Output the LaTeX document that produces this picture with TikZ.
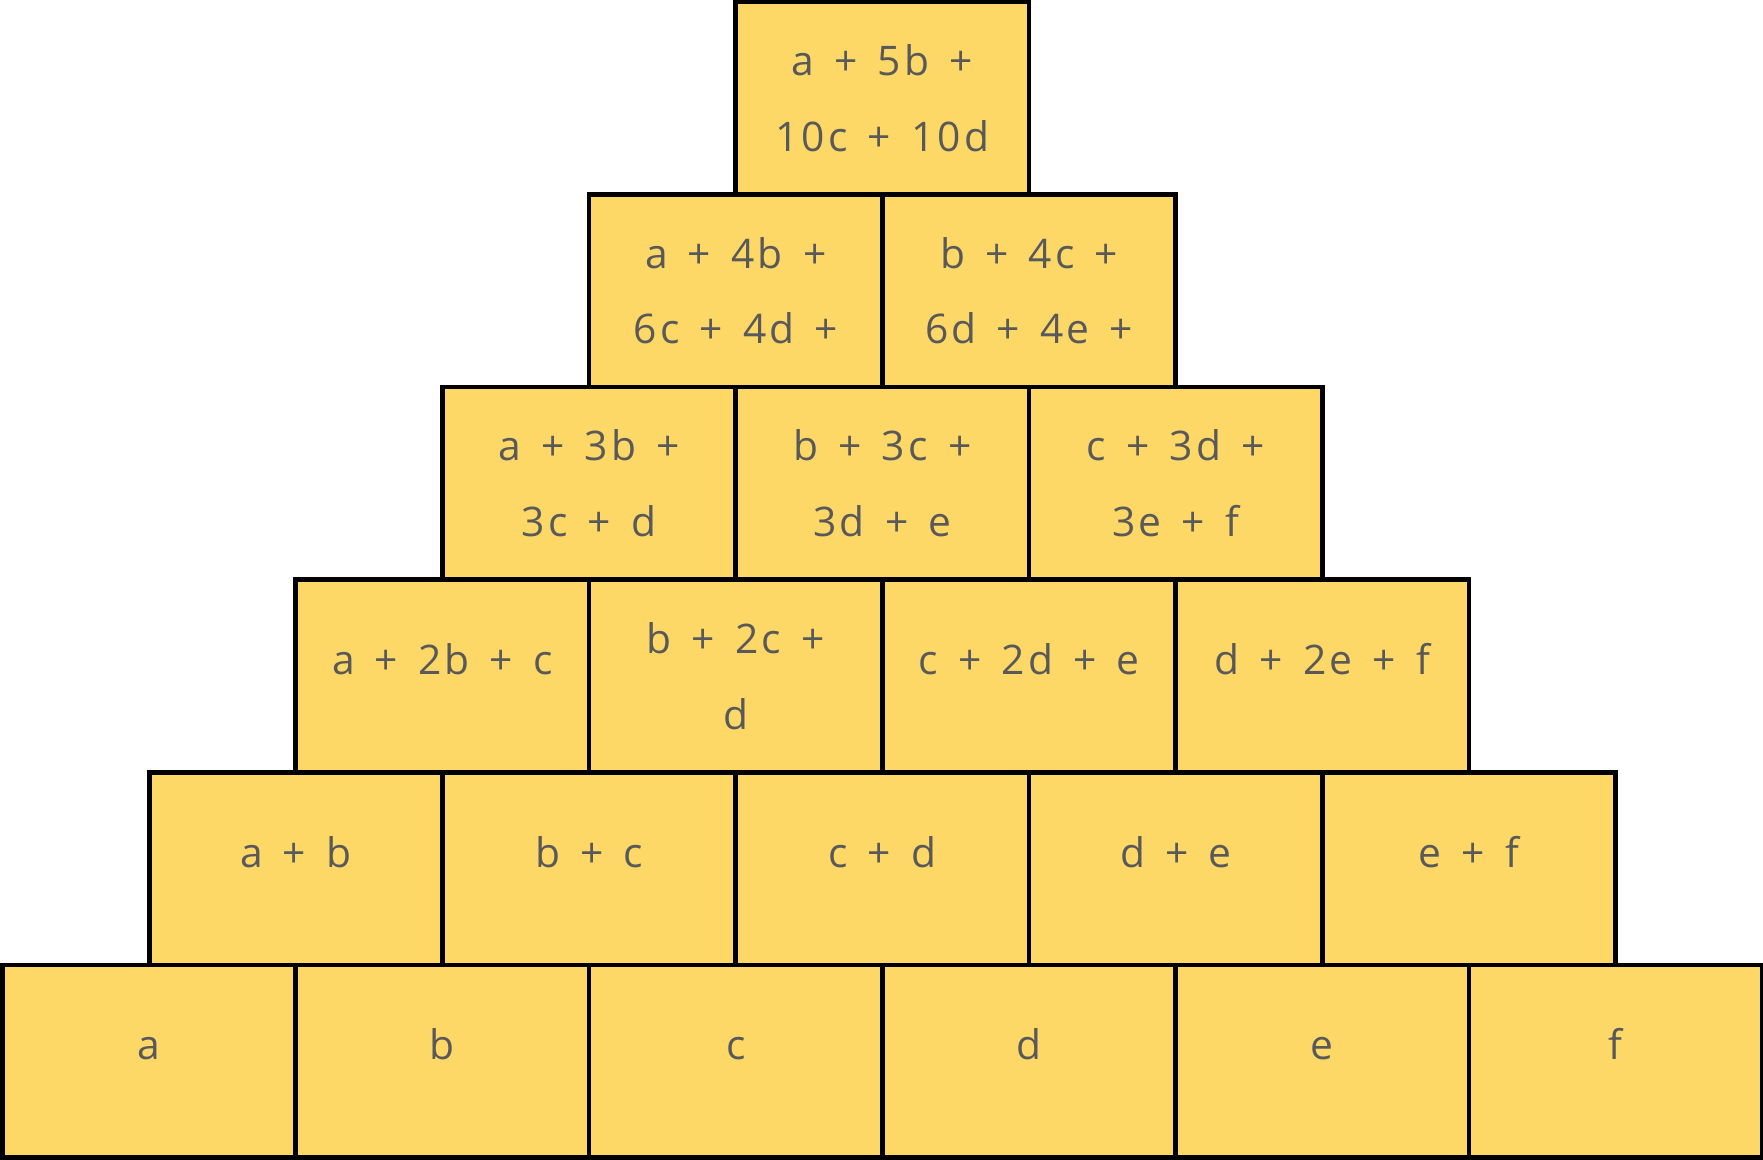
\documentclass[tikz,border=0pt]{standalone}
\usepackage{fontspec}
\setmainfont{Open Sans}[LetterSpace=8,WordSpace=1.45]
\definecolor{brickfill}{HTML}{FDD867}
\definecolor{ink}{HTML}{595959}
\tikzset{
  brick/.style={draw=black,line width=1.35pt,fill=brickfill,
    minimum width=2.933cm,minimum height=1.926cm,inner sep=0pt,outer sep=0pt,
    text=ink,align=center,font=\fontsize{11.6}{21.5}\selectfont},
  oneline/.style={text height=2mm,text depth=2.3mm}
}
\newcommand{\bw}{2.933}
\newcommand{\bh}{1.926}

\begin{document}
\begin{tikzpicture}
\useasboundingbox (0,0) rectangle (17.63,11.60);
% bottom row
\foreach \t [count=\i from 0] in {a,b,c,d,e,f}
    \node[brick,oneline] (r0c\i) at (0.025+\bw/2+\i*\bw,0.025+\bh/2) {\t};
% row 1
\foreach \t [count=\i from 0] in {a + b,b + c,c + d,d + e,e + f}
    \node[brick,oneline] (r1c\i) at (0.025+\bw+\i*\bw,0.025+1.5*\bh) {\t};
% row 2
\node[brick,oneline] (r2c0) at (0.025+1.5*\bw,0.025+2.5*\bh) {a + 2b + c};
\node[brick] (r2c1) at (0.025+2.5*\bw,0.025+2.5*\bh) {b + 2c +\\d};
\node[brick,oneline] (r2c2) at (0.025+3.5*\bw,0.025+2.5*\bh) {c + 2d + e};
\node[brick,oneline] (r2c3) at (0.025+4.5*\bw,0.025+2.5*\bh) {d + 2e + f};
% row 3
\foreach \t [count=\i from 0] in {{a + 3b +\\3c + d},{b + 3c +\\3d + e},{c + 3d +\\3e + f}}
    \node[brick] (r3c\i) at (0.025+2*\bw+\i*\bw,0.025+3.5*\bh) {\t};
% row 4
\foreach \t [count=\i from 0] in {{a + 4b +\\6c + 4d +},{b + 4c +\\6d + 4e +}}
    \node[brick] (r4c\i) at (0.025+2.5*\bw+\i*\bw,0.025+4.5*\bh) {\t};
% top
\node[brick] (r5c0) at (0.025+3*\bw,0.025+5.5*\bh) {a + 5b +\\10c + 10d};
\end{tikzpicture}
\end{document}
